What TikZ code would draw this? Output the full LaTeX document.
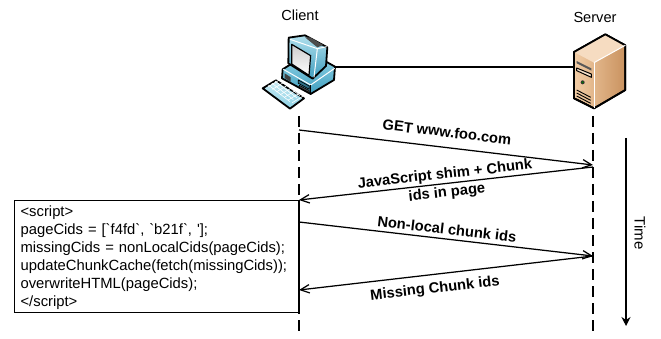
\documentclass[tikz,border=0pt]{standalone}
\usepackage{fontspec}
\setmainfont{Liberation Sans}
\newfontfamily\codefont{Liberation Sans}
\usetikzlibrary{arrows.meta}
\definecolor{tealA}{HTML}{8FD3E6}
\definecolor{tealB}{HTML}{3F9DBE}
\definecolor{tanA}{HTML}{F2CDA6}
\definecolor{tanB}{HTML}{C9925F}
\tikzset{
  x=1pt,y=-1pt,
  lifeline/.style={line width=1.25pt,dash pattern=on 11pt off 6pt},
  msg/.style={line width=1.25pt,-{Straight Barb[length=9pt,width=10pt,angle'=50]}},
  msglabel/.style={font=\bfseries\fontsize{14.7}{18.5}\selectfont,align=center,inner sep=0pt},
  title/.style={font=\fontsize{14.6}{15}\selectfont,inner sep=0pt},
  codebox/.style={draw,line width=1.2pt,fill=white,align=left,anchor=north west,inner sep=0pt,
     text width=285pt,minimum height=112pt,font=\codefont\fontsize{14.8}{17.9}\selectfont},
  icon/.style={draw=black,line width=1.8pt,line join=round},
  thinpart/.style={draw=black,line width=.7pt,line join=round}
}
\begin{document}
\begin{tikzpicture}
\useasboundingbox (0,0) rectangle (661,339);
% named points
\coordinate (ct) at (299,116); \coordinate (cb) at (299,337);
\coordinate (st) at (593,116); \coordinate (sb) at (593,335);
\coordinate (a1) at (299,130); \coordinate (a2) at (593,165);
\coordinate (b1) at (593,167); \coordinate (b2) at (299,200);
\coordinate (c1) at (299,222); \coordinate (c2) at (593,256);
\coordinate (d1) at (593,256); \coordinate (d2) at (299,290);
\coordinate (t1) at (626,138); \coordinate (t2) at (626,326);
\coordinate (cl) at (334,67); \coordinate (sl) at (576,67);
% titles
\node[title] (client) at (300,15) {Client};
\node[title] (server) at (595,17) {Server};
% backbone
\draw[line width=2.4pt] (cl) -- (sl);
% lifelines
\draw[lifeline] (ct) -- (cb);
\draw[lifeline] (st) -- (sb);
% box
\node[codebox] (code) at (14,200) {\hspace{6pt}\parbox[t]{278pt}{\rule{0pt}{13pt}<script>\\pageCids = [`f4fd`, `b21f`, '];\\missingCids = nonLocalCids(pageCids);\\updateChunkCache(fetch(missingCids));\\overwriteHTML(pageCids);\\</script>}};
\draw[line width=1.25pt] (b2) -- (299,312);
% messages
\draw[msg] (a1) -- (a2);
\draw[msg] (b1) -- (b2);
\draw[msg] (c1) -- (c2);
\draw[msg] (d1) -- (d2);
\node[msglabel,rotate=-6.8] (m1) at (447,132) {GET www.foo.com};
\node[msglabel,rotate=6.2] (m2) at (446,184) {JavaScript shim + Chunk\\ids in page};
\node[msglabel,rotate=-6.6] (m3) at (447,229) {Non-local chunk ids};
\node[msglabel,rotate=6.5] (m4) at (435,289) {Missing Chunk ids};
% time
\draw[line width=1.2pt,-{Stealth[length=9pt,width=9pt]}] (t1) -- (t2);
\node[title,font=\fontsize{15}{15}\selectfont,rotate=-90] (time) at (640,233) {Time};
% client icon (zoom coordinates)
\begin{scope}[shift={(240,0)},x=.3333pt,y=-.3333pt]
  \path[icon,top color=tealA,bottom color=tealB] (128,208) -- (160,188) -- (235,172) -- (285,200) -- (282,240) -- (212,282) -- (126,235) -- cycle;
  \path[thinpart,draw=white,line width=1pt] (130,208) -- (212,255) -- (284,205);
  \path[draw=black,line width=1.2pt] (212,255) -- (212,282);
  \path[fill=black!75] (134,220) -- (152,232) -- (152,246) -- (134,234) -- cycle;
  \path[thinpart,fill=tealB!70!black] (175,240) -- (208,258) -- (208,268) -- (175,250) -- cycle;
  \path[thinpart,fill=black!70] (178,256) -- (208,272) -- (208,278) -- (178,262) -- cycle;
  \path[icon,top color=tealA!70,bottom color=tealB] (146,113) -- (195,106) -- (262,142) -- (258,198) -- (218,236) -- (145,190) -- cycle;
  \path[fill=black!70] (195,112) -- (210,112) -- (250,135) -- (232,142) -- cycle;
  \path[draw=white,line width=1pt] (150,118) -- (232,146) -- (222,232);
  \path[draw=white,line width=1pt] (232,146) -- (260,140);
  \path[icon,top color=black!20,bottom color=white,line width=1.2pt] (155,133) -- (212,167) -- (207,226) -- (155,192) -- cycle;
  \path[icon,top color=tealA!50,bottom color=tealA] (68,265) -- (108,241) -- (192,295) -- (150,326) -- cycle;
  \foreach \i in {0,1,2,3}{\path[draw=white,line width=.6pt] ({85+\i*10},{255-\i*6}) -- ({150+\i*10},{305-\i*6});}
  \foreach \i in {0,1,2,3,4,5,6}{\path[draw=white,line width=.6pt] ({85+\i*12},{260+\i*8}) -- ({118+\i*12},{240+\i*8});}
\end{scope}
% server icon (zoom coordinates)
\begin{scope}[shift={(550,0)},x=.3333pt,y=-.3333pt]
  \path[icon,left color=tanA,right color=tanB] (72,156) -- (166,103) -- (226,136) -- (226,270) -- (132,325) -- (72,295) -- cycle;
  \path[fill=tanA!70!white] (72,156) -- (166,103) -- (226,136) -- (132,188) -- cycle;
  \path[icon] (72,156) -- (166,103) -- (226,136) -- (226,270) -- (132,325) -- (72,295) -- cycle;
  \path[draw=white,line width=1pt] (132,188) -- (226,136);
  \path[draw=white,line width=1pt] (132,188) -- (132,323);
  \path[fill=black!65] (80,183) -- (124,205) -- (124,212) -- (80,190) -- cycle;
  \path[thinpart,fill=tanA!60!white,line width=1pt] (80,204) -- (124,222) -- (124,232) -- (80,212) -- cycle;
  \path[fill=black!80] (98,247) circle[radius=6];
  \path[fill=green!50!black] (98,247) circle[radius=3];
  \foreach \i in {0,1,2,3}{\path[draw=black,line width=.9pt] (80,{270+\i*9}) -- (122,{292+\i*9});}
\end{scope}
\end{tikzpicture}
\end{document}
